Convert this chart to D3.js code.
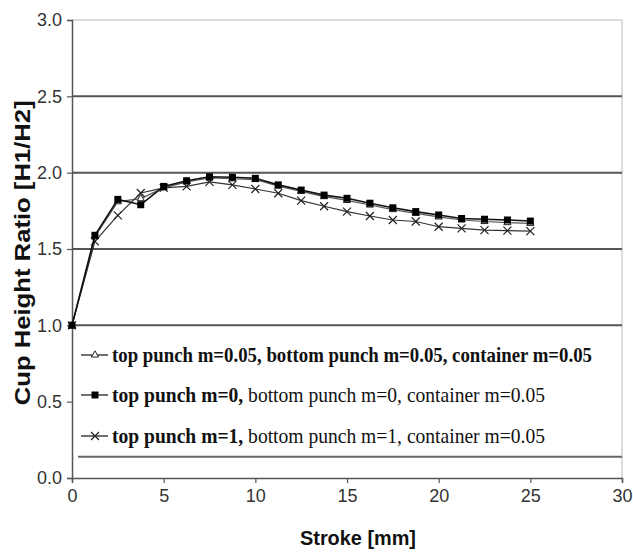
<!DOCTYPE html>
<html>
<head>
<meta charset="utf-8">
<script src="https://cdn.jsdelivr.net/npm/d3@7"></script>
<style>
  body { margin: 0; background: #fff; }
  svg { display: block; }
</style>
</head>
<body>
<svg id="chart" width="633" height="552"></svg>
<script>
// Stroke positions (mm)
var stroke = [0, 1.25, 2.5, 3.75, 5, 6.25, 7.5, 8.75, 10, 11.25, 12.5, 13.75, 15, 16.25, 17.5, 18.75, 20, 21.25, 22.5, 23.75, 25];

// top punch m=0.05, bottom punch m=0.05, container m=0.05
var ratioTri = [1.0, 1.58, 1.81, 1.83, 1.90, 1.94, 1.965, 1.96, 1.955, 1.912, 1.878, 1.843, 1.818, 1.788, 1.758, 1.733, 1.71, 1.69, 1.68, 1.673, 1.668];
// top punch m=0, bottom punch m=0, container m=0.05
var ratioSq = [1.0, 1.59, 1.825, 1.79, 1.91, 1.947, 1.973, 1.97, 1.963, 1.92, 1.886, 1.853, 1.832, 1.80, 1.77, 1.745, 1.723, 1.70, 1.695, 1.69, 1.683];
// top punch m=1, bottom punch m=1, container m=0.05
var ratioX = [1.0, 1.55, 1.72, 1.867, 1.90, 1.91, 1.94, 1.92, 1.893, 1.865, 1.817, 1.78, 1.745, 1.716, 1.69, 1.68, 1.646, 1.635, 1.624, 1.62, 1.617];

var xTicks = [0, 5, 10, 15, 20, 25, 30];
var yTicks = [0, 0.5, 1.0, 1.5, 2.0, 2.5, 3.0];
var gridVals = [1.0, 1.5, 2.0, 2.5];

var legendRows = [
  { marker: "tri", parts: [["top punch m=0.05, bottom punch m=0.05, container m=0.05", "bold"]], len: 480 },
  { marker: "sq", parts: [["top punch m=0,", "bold"], [" bottom punch m=0, container m=0.05", "normal"]], len: 433 },
  { marker: "x", parts: [["top punch m=1,", "bold"], [" bottom punch m=1, container m=0.05", "normal"]], len: 433 }
];

var svg = d3.select("#chart");
var plotLeft = 72, plotRight = 622, plotTop = 20, plotBottom = 478;

var x = d3.scaleLinear().domain([0, 30]).range([plotLeft, plotRight]);
var y = d3.scaleLinear().domain([0, 3]).range([plotBottom, plotTop]);

// plot frame (light)
svg.append("line").attr("x1", plotLeft).attr("x2", plotRight).attr("y1", y(3)).attr("y2", y(3))
  .attr("stroke", "#d0d0d0").attr("stroke-width", 1.5);
svg.append("line").attr("x1", plotRight).attr("x2", plotRight).attr("y1", plotTop).attr("y2", plotBottom)
  .attr("stroke", "#d0d0d0").attr("stroke-width", 1.5);

// gridlines
svg.append("g").selectAll("line").data(gridVals).enter().append("line")
  .attr("x1", plotLeft).attr("x2", plotRight)
  .attr("y1", function(d) { return y(d); }).attr("y2", function(d) { return y(d); })
  .attr("stroke", "#555").attr("stroke-width", 2);

// legend bottom border
svg.append("line").attr("x1", 78).attr("x2", plotRight).attr("y1", y(0.14)).attr("y2", y(0.14))
  .attr("stroke", "#666").attr("stroke-width", 2);

// axes
var xAxis = svg.append("g").attr("transform", "translate(0," + plotBottom + ")")
  .call(d3.axisBottom(x).tickValues(xTicks).tickFormat(d3.format("d")).tickSizeOuter(0).tickSize(5).tickPadding(6));
var yAxis = svg.append("g").attr("transform", "translate(" + plotLeft + ",0)")
  .call(d3.axisLeft(y).tickValues(yTicks).tickFormat(d3.format(".1f")).tickSizeOuter(0).tickSize(5).tickPadding(5));

[xAxis, yAxis].forEach(function(a) {
  a.select(".domain").attr("stroke", "#555").attr("stroke-width", 1.5);
  a.selectAll(".tick line").attr("stroke", "#555").attr("stroke-width", 1.2);
  a.selectAll(".tick text").attr("fill", "#333")
    .style("font-family", "'Liberation Sans', Arial, sans-serif").style("font-size", "18px");
});

// axis titles
svg.append("text")
  .attr("transform", "translate(30," + ((y(2.5) + y(0.45)) / 2) + ") rotate(-90)")
  .attr("text-anchor", "middle")
  .attr("textLength", 305).attr("lengthAdjust", "spacingAndGlyphs")
  .style("font-family", "'Liberation Sans', Arial, sans-serif").style("font-weight", "bold").style("font-size", "22px")
  .attr("fill", "#111")
  .text("Cup Height Ratio [H1/H2]");

svg.append("text")
  .attr("x", 358).attr("y", 545)
  .attr("text-anchor", "middle")
  .attr("textLength", 116).attr("lengthAdjust", "spacingAndGlyphs")
  .style("font-family", "'Liberation Sans', Arial, sans-serif").style("font-weight", "bold").style("font-size", "21px")
  .attr("fill", "#111")
  .text("Stroke [mm]");

// series
var series = [
  { values: ratioTri, marker: "tri", color: "#555", width: 1.2 },
  { values: ratioX, marker: "x", color: "#333", width: 1.2 },
  { values: ratioSq, marker: "sq", color: "#111", width: 1.6 }
];

var line = d3.line()
  .x(function(d) { return x(d[0]); })
  .y(function(d) { return y(d[1]); });

function drawMarker(g, type, cx, cy) {
  if (type === "sq") {
    g.append("rect").attr("x", cx - 3.5).attr("y", cy - 3.5).attr("width", 7).attr("height", 7).attr("fill", "#000");
  } else if (type === "tri") {
    g.append("path")
      .attr("d", d3.symbol().type(d3.symbolTriangle).size(22)())
      .attr("transform", "translate(" + cx + "," + cy + ")")
      .attr("fill", "#fff").attr("stroke", "#222").attr("stroke-width", 1);
  } else {
    g.append("path")
      .attr("d", "M" + (cx - 4) + "," + (cy - 4) + "L" + (cx + 4) + "," + (cy + 4) + "M" + (cx - 4) + "," + (cy + 4) + "L" + (cx + 4) + "," + (cy - 4))
      .attr("stroke", "#222").attr("stroke-width", 1.2).attr("fill", "none");
  }
}

series.forEach(function(s) {
  var pts = stroke.map(function(v, i) { return [v, s.values[i]]; });
  var g = svg.append("g");
  g.append("path").datum(pts).attr("d", line)
    .attr("fill", "none").attr("stroke", s.color).attr("stroke-width", s.width);
  pts.forEach(function(p) { drawMarker(g, s.marker, x(p[0]), y(p[1])); });
});

// legend
var legY = [355, 395, 436];
legendRows.forEach(function(r, i) {
  var g = svg.append("g");
  g.append("line").attr("x1", 81).attr("x2", 108).attr("y1", legY[i]).attr("y2", legY[i])
    .attr("stroke", "#222").attr("stroke-width", 1.3);
  drawMarker(g, r.marker, 95, legY[i]);
  var t = g.append("text").attr("x", 112).attr("y", legY[i] + 7)
    .attr("textLength", r.len).attr("lengthAdjust", "spacingAndGlyphs")
    .style("font-family", "'Liberation Serif', 'Times New Roman', serif").style("font-size", "21px")
    .attr("fill", "#111");
  r.parts.forEach(function(p) {
    t.append("tspan").style("font-weight", p[1]).text(p[0]);
  });
});
</script>
</body>
</html>
